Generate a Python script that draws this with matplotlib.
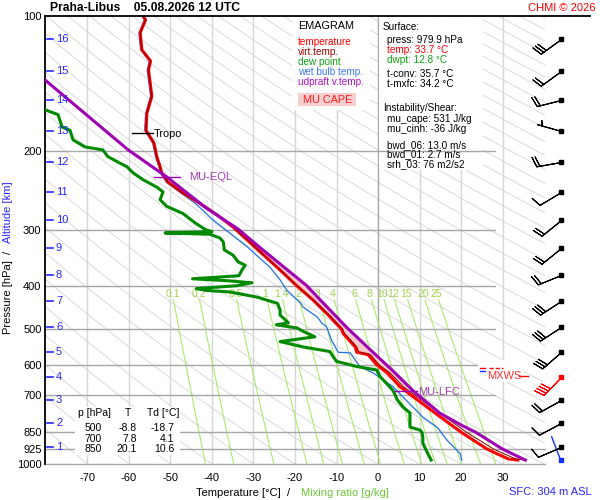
import numpy as np
import matplotlib
matplotlib.use("Agg")
import matplotlib.pyplot as plt
import matplotlib.transforms as mtransforms
from matplotlib.patches import Rectangle
from matplotlib.lines import Line2D

plt.rcParams["font.family"] = ["Liberation Sans", "DejaVu Sans"]
plt.rcParams["axes.unicode_minus"] = False

# temperature / virtual temperature [hPa, degC]
p_t = [100, 102, 109, 119, 126, 132, 141, 151, 165, 180, 192, 206, 217, 224, 235,
       249, 262, 278, 296, 320, 369, 400, 431, 469, 500, 511, 548, 563, 570, 602,
       626, 672, 700, 769, 850, 925, 950, 975, 980]
t = [-56.6, -56.0, -57.3, -56.9, -54.8, -55.3, -54.9, -54.5, -55.7, -55.9, -54.0,
     -53.3, -52.5, -52.1, -50.6, -46.8, -42.9, -38.8, -34.9, -30.9, -23.6, -19.6,
     -15.6, -11.6, -8.8, -8.4, -5.5, -5.1, -2.4, -0.2, 2.2, 5.3, 7.8, 13.7, 20.1,
     26.2, 28.8, 31.5, 33.7]
tv = [-56.6, -56.0, -57.3, -56.9, -54.8, -55.3, -54.9, -54.5, -55.7, -55.9, -54.0,
      -53.3, -52.5, -52.1, -50.6, -46.8, -42.9, -38.8, -34.9, -30.9, -23.5, -19.5,
      -15.5, -11.4, -8.5, -8.1, -5.1, -4.6, -1.8, 0.4, 2.9, 6.1, 8.7, 14.8, 21.4,
      27.8, 30.5, 33.3, 35.5]

# dew point
p_td = [162, 166, 177, 180, 189, 196, 199, 206, 213, 217, 224, 232, 241, 247, 257,
        266, 276, 290, 300, 303, 305, 307, 313, 319, 333, 342, 354, 360, 369, 380,
        386, 390, 394, 400, 406, 410, 413, 424, 438, 453, 465, 484, 489, 497, 506,
        520, 533, 548, 561, 576, 590, 606, 617, 638, 685, 700, 718, 746, 769, 827,
        840, 850, 871, 899, 948, 980]
td = [-80.2, -77.1, -76.1, -74.2, -73.5, -70.6, -66.3, -65.1, -62.2, -60.5, -59.0,
      -56.6, -53.3, -51.8, -52.5, -50.9, -47.0, -44.0, -41.5, -40.0, -51.3, -40.5,
      -38.1, -37.3, -37.0, -34.9, -33.7, -32.0, -32.8, -33.5, -44.7, -36.0, -30.4,
      -34.0, -43.8, -41.2, -35.7, -29.2, -24.2, -23.6, -23.6, -21.6, -24.5, -19.5,
      -18.0, -15.2, -23.6, -18.0, -11.6, -10.8, -10.0, -5.1, -0.3, 0.5, 3.6, 4.1,
      4.6, 6.0, 7.7, 7.7, 10.1, 10.6, 10.8, 10.8, 12.0, 12.8]

# wet bulb temperature
p_tw = [100, 102, 109, 119, 126, 132, 141, 151, 165, 180, 192, 206, 217, 224, 235,
        248, 262, 285, 327, 364, 388, 409, 438, 446, 470, 484, 494, 529, 563, 565,
        607, 626, 672, 708, 746, 786, 827, 884, 948, 980]
tw = [-56.9, -56.3, -57.6, -57.2, -55.1, -55.6, -55.2, -54.8, -56.0, -56.2, -54.3,
      -53.6, -52.8, -52.4, -51.0, -47.6, -44.0, -39.8, -31.6, -26.0, -23.6, -22.0,
      -18.6, -18.1, -14.6, -13.6, -12.4, -11.2, -9.6, -6.7, -4.3, -1.2, 3.6, 6.0,
      8.4, 10.8, 14.2, 16.6, 19.8, 20.2]

# most unstable parcel (virtual temperature)
p_par = [139, 199, 229, 267, 299, 329, 399, 494, 551, 621, 687, 697, 770, 820, 850, 925, 980]
t_par = [-80.2, -60.2, -50.8, -41.7, -33.7, -28.4, -17.3, -7.7, -2.3, 3.7, 8.5, 9.3,
         14.9, 20.2, 23.6, 29.9, 35.5]

tropo_p, tropo_t = 182, -56.7
eql_p, eql_t = 229, -50.8
lfc_p, lfc_t = 687, 6.7

# altitude scale and winds
alt_km = list(range(1, 17))
alt_p = [914.6, 811.0, 719.4, 638.2, 563.1, 493.6, 432.6, 378.5, 329.9, 285.3,
         246.7, 212.1, 180.6, 154.0, 132.5, 112.7]
wind_dir = [247, 242, 241, 224, 229, 237, 237, 248, 231, 231, 239, 260, 286, 256, 234, 234]
wind_kt = [10, 10, 20, 40, 30, 30, 30, 20, 20, 20, 10, 20, 5, 20, 20, 30]
maxwind_km = 4
sfc_p, sfc_dir = 979.9, 339

mix_w = [0.1, 0.2, 0.5, 1, 1.4, 2, 3, 4, 6, 8, 10, 12, 15, 20, 25]
p_levels = [100, 200, 300, 400, 500, 600, 700, 850, 925, 1000]
t_ticks = [-70, -60, -50, -40, -30, -20, -10, 0, 10, 20, 30]

table_p = [500, 700, 850]
table_t = [-8.8, 7.8, 20.1]
table_td = [-18.7, 4.1, 10.6]

W, H = 600, 500
fig = plt.figure(figsize=(6, 5), dpi=100)


def fx(x):
    return x / W


def fy(y):
    return 1 - y / H


ax = fig.add_axes([fx(45), fy(464), 500 / W, 448 / H])
xmin, xmax = -80.24, 40.24
ax.set_yscale("log")
ax.set_xlim(xmin, xmax)
ax.set_ylim(1000, 100)
ax.patch.set_alpha(0)
for s in ["top", "right", "bottom"]:
    ax.spines[s].set_visible(False)
ax.spines["left"].set_linewidth(1.3)
ax.set_yticks(p_levels)
ax.set_yticklabels([str(p) for p in p_levels])
ax.yaxis.set_minor_locator(matplotlib.ticker.NullLocator())
ax.set_xticks(t_ticks)
ax.set_xticklabels([str(v) for v in t_ticks])
ax.tick_params(axis="x", length=0, labelsize=8, pad=6.5)
ax.tick_params(axis="y", length=0, labelsize=8, pad=2.5)

# background: dry adiabats
pp = np.geomspace(100, 1000, 120)
for t0 in range(-80, 340, 10):
    ax.plot((t0 + 273.15) * (pp / 1000) ** 0.2857 - 273.15, pp,
            color="#dadada", lw=0.7, zorder=1)

# isotherms
for tt in t_ticks:
    ax.axvline(tt, color="#a6a6a6" if tt == 0 else "#d6d6d6", lw=1, zorder=1.2)

# mixing ratio lines
pm = np.geomspace(430, 1000, 40)
for w in mix_w:
    e = w * pm / (622 + w)
    le = np.log(e / 6.112)
    ax.plot(243.5 * le / (17.67 - le), pm, color="#a8ec70", lw=0.8, zorder=1.3)
    e0 = w * 417 / (622 + w)
    l0 = np.log(e0 / 6.112)
    ax.text(243.5 * l0 / (17.67 - l0), 417, str(w), color="#9fd24a",
            fontsize=7.5, ha="center", va="center", zorder=1.3)

# info boxes (hide adiabats, under isobars)
for (x0, y0, x1, y1) in [(292, 17, 370, 110), (379, 17, 483, 170)]:
    ax.add_artist(Rectangle((fx(x0), fy(y1)), fx(x1 - x0), (y1 - y0) / H,
                            transform=fig.transFigure, facecolor="white",
                            edgecolor="none", zorder=1.5, clip_on=False))

# isobars
for p in p_levels[1:]:
    xe = xmax if p >= 850 else 28.2
    ax.plot([xmin, xe], [p, p], color="#a6a6a6", lw=1, zorder=2, clip_on=False)

# CAPE area between parcel and environment virtual temperature
cp = [(p, v) for p, v in zip(p_par, t_par) if eql_p <= p <= lfc_p]
ce = [(p, v) for p, v in zip(p_t, tv) if eql_p <= p <= lfc_p][::-1]
ax.fill([v for _, v in cp + ce], [p for p, _ in cp + ce], color="#f8caca",
        lw=0, zorder=2.5)

ax.plot(tw, p_tw, color="#2070e8", lw=0.9, zorder=3)
ax.plot(t, p_t, color="#ff0000", lw=2.2, zorder=4)
ax.plot(tv, p_t, color="#8b0000", lw=0.7, zorder=4.5)
ax.plot(td, p_td, color="#008a00", lw=2.2, zorder=4)
ax.plot(t_par, p_par, color="#a000b4", lw=2.2, zorder=5)

ax.plot([tropo_t - 2.5, tropo_t + 2.5], [tropo_p] * 2, color="black", lw=1, zorder=6)
ax.plot([eql_t - 3.1, eql_t + 3.1], [eql_p] * 2, color="#a000b4", lw=1, zorder=6)
ax.plot([lfc_t - 2.6, lfc_t + 2.6], [lfc_p] * 2, color="#a000b4", lw=1, zorder=6)

# altitude scale
trans = mtransforms.blended_transform_factory(ax.transAxes, ax.transData)
for km, p in zip(alt_km, alt_p):
    ax.plot([0.004, 0.016], [p, p], transform=trans, color="#2828ff", lw=1.2,
            zorder=6, clip_on=False)
    ax.text(0.022, p, str(km), transform=trans, color="#2828ff", fontsize=8,
            va="center", zorder=6)

# wind barbs
barb_x = 44.0
rad = np.deg2rad(wind_dir)
u = -np.array(wind_kt) * np.sin(rad)
v = -np.array(wind_kt) * np.cos(rad)
for km, p, uu, vv in zip(alt_km, alt_p, u, v):
    c = "red" if km == maxwind_km else "black"
    ax.barbs([barb_x], [p], [uu], [vv], length=6, lw=0.8, color=c,
             clip_on=False, zorder=7)
    ax.plot(barb_x, p, "s", ms=2.6, color=c, clip_on=False, zorder=7)
sd = np.deg2rad(sfc_dir)
ax.annotate("", xy=(barb_x, sfc_p), xytext=(18 * np.sin(sd), 18 * np.cos(sd)),
            textcoords="offset points", annotation_clip=False,
            arrowprops=dict(arrowstyle="-", color="#1030ff", lw=1, shrinkA=0, shrinkB=0))
ax.plot(barb_x, sfc_p, "s", ms=2.6, color="#1030ff", clip_on=False, zorder=7)

# top frame line
fig.add_artist(Line2D([fx(45), fx(590)], [fy(16), fy(16)], color="black", lw=1.3))


def txt(x, y, s, **kw):
    kw.setdefault("fontsize", 7.2)
    kw.setdefault("va", "center")
    fig.text(fx(x), fy(y), s, **kw)


txt(50, 8, "Praha-Libus    05.08.2026 12 UTC", fontsize=8.7, fontweight="bold")
txt(596, 8, "CHMI \u00a9 2026", fontsize=8, color="red", ha="right")

txt(298, 26, "EMAGRAM", fontsize=7.8)
txt(298, 42, "temperature", color="#ff0000")
txt(298, 52, "virt.temp.", color="#a00000")
txt(298, 62, "dew point", color="#10a010")
txt(298, 72, "wet bulb temp.", color="#3a78f0")
txt(298, 82, "udpraft v.temp.", color="#b010c0")
fig.add_artist(Rectangle((fx(298), fy(106)), fx(58), 13 / H, facecolor="#f7cdcd",
                         edgecolor="none", transform=fig.transFigure))
txt(303, 100, "MU CAPE", fontsize=7.8, color="#ff2020")

txt(383, 27, "Surface:")
txt(387, 40, "press: 979.9 hPa")
txt(387, 50, "temp: 33.7 \u00b0C", color="#ff0000")
txt(387, 60, "dwpt: 12.8 \u00b0C", color="#10a010")
txt(387, 74, "t-conv: 35.7 \u00b0C")
txt(387, 84, "t-mxfc: 34.2 \u00b0C")
txt(383, 108, "Instability/Shear:")
txt(387, 119, "mu_cape: 531 J/kg")
txt(387, 129, "mu_cinh: -36 J/kg")
txt(387, 145, "bwd_06: 13.0 m/s")
txt(387, 154, "bwd_01: 2.7 m/s")
txt(387, 164, "srh_03: 76 m2/s2")

txt(154, 134, "Tropo", fontsize=7.8)
txt(189, 177, "MU-EQL", fontsize=8, color="#a040b0")
txt(418, 392, "MU-LFC", fontsize=8, color="#a040b0")

# max wind label
fig.add_artist(Rectangle((fx(478), fy(382)), fx(45), 22 / H, facecolor="white",
                         edgecolor="none", transform=fig.transFigure))
fig.add_artist(Line2D([fx(480), fx(485)], [fy(367.5)] * 2, color="red", lw=1))
fig.add_artist(Line2D([fx(489), fx(503)], [fy(367.5)] * 2, color="red", lw=1, ls=(0, (3, 1.5))))
fig.add_artist(Line2D([fx(480), fx(485)], [fy(370.5)] * 2, color="#1030ff", lw=1))
txt(487, 376, "MXWS", fontsize=8, color="#ff3030")
fig.add_artist(Line2D([fx(519), fx(528)], [fy(375.7)] * 2, color="red", lw=1))

# table of standard levels
fig.add_artist(Rectangle((fx(75), fy(455)), fx(105), 48 / H, facecolor="white",
                         edgecolor="none", transform=fig.transFigure))
txt(78, 413, "p [hPa]", fontsize=7.5)
txt(128, 413, "T", fontsize=7.5, ha="center")
txt(147, 413, "Td [\u00b0C]", fontsize=7.5)
for i, (pl, tl, dl) in enumerate(zip(table_p, table_t, table_td)):
    yy = 428 + i * 10.5
    txt(93, yy, str(pl), fontsize=7.5, ha="center")
    txt(137, yy, f"{tl:.1f}", fontsize=7.5, ha="right")
    txt(174, yy, f"{dl:.1f}", fontsize=7.5, ha="right")

# axis titles
txt(8, 297, "Pressure [hPa]", fontsize=8, rotation=90, ha="center")
txt(8, 252, "/", fontsize=8, rotation=90, ha="center")
txt(8, 212, "Altitude [km]", fontsize=8, rotation=90, ha="center", color="#2828ff")
txt(238, 493, "Temperature [\u00b0C]", fontsize=8, ha="center")
txt(289, 493, "/", fontsize=8, ha="center")
txt(345, 493, "Mixing ratio [g/kg]", fontsize=8, ha="center", color="#6cc838")
txt(550, 492, "SFC: 304 m ASL", fontsize=8, ha="center", color="#2828ff")

fig.savefig("out.png", dpi=100)
